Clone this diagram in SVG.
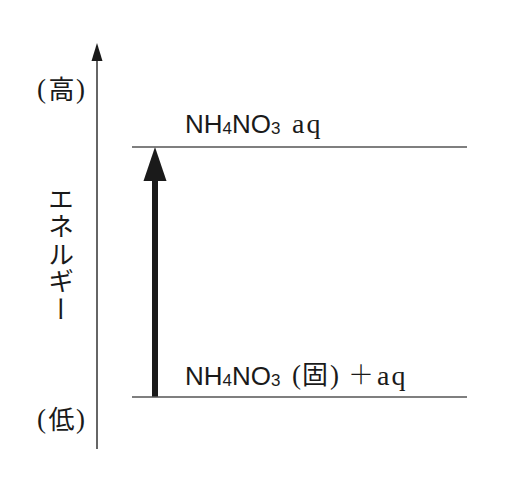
<svg xmlns="http://www.w3.org/2000/svg" width="517" height="479" viewBox="0 0 517 479">
<style>
.lat{font-family:"Liberation Sans",Arial,sans-serif;font-size:26px;fill:#1a1a1a}
.sub{font-size:17px}
.ser{font-family:"Liberation Serif","Times New Roman",serif;font-size:28px;fill:#1a1a1a}
.jp{font-family:"Noto Sans CJK JP","Noto Sans CJK SC",sans-serif;font-size:26px;fill:#1a1a1a}
.par{font-family:"Liberation Serif","Times New Roman",serif;font-size:27px;fill:#1a1a1a}
.lvl{stroke:#555;stroke-width:1.5;fill:none}
</style>
<rect width="517" height="479" fill="#fff"/>
<g id="connectors">
  <line x1="97" y1="56" x2="97" y2="449" stroke="#333" stroke-width="1.5"/>
  <polygon points="97,43 91.5,61 102.5,61" fill="#1a1a1a"/>
  <line x1="155" y1="178" x2="155" y2="397" stroke="#1a1a1a" stroke-width="6"/>
  <polygon points="155,147 143.5,181 166.5,181" fill="#1a1a1a"/>
</g>
<g id="axis-labels">
  <g id="label-high">
    <text class="par" x="37" y="98">(</text>
    <text class="jp" x="61.5" y="99" text-anchor="middle">高</text>
    <text class="par" x="76" y="98">)</text>
  </g>
  <g id="label-energy">
    <text class="jp" x="61" y="186" style="writing-mode:vertical-rl;letter-spacing:1.5px">エネルギー</text>
  </g>
  <g id="label-low">
    <text class="par" x="37" y="428">(</text>
    <text class="jp" x="61.5" y="429" text-anchor="middle">低</text>
    <text class="par" x="76" y="428">)</text>
  </g>
</g>
<g id="level-top">
  <line class="lvl" x1="132" y1="147" x2="467" y2="147"/>
  <text class="lat" x="185" y="133">NH<tspan class="sub" dy="1">4</tspan><tspan dy="-1">NO</tspan><tspan class="sub" dy="1">3</tspan></text>
  <text class="ser" x="292" y="133" letter-spacing="2">aq</text>
</g>
<g id="level-bottom">
  <line class="lvl" x1="132" y1="397" x2="467" y2="397"/>
  <text class="lat" x="185" y="385">NH<tspan class="sub" dy="1">4</tspan><tspan dy="-1">NO</tspan><tspan class="sub" dy="1">3</tspan></text>
  <text class="par" x="292" y="384">(</text>
  <text class="jp" x="315" y="384" text-anchor="middle">固</text>
  <text class="par" x="330" y="384">)</text>
  <text class="jp" x="361" y="384" text-anchor="middle" style="font-weight:300">＋</text>
  <text class="ser" x="377" y="385" letter-spacing="2">aq</text>
</g>
</svg>
